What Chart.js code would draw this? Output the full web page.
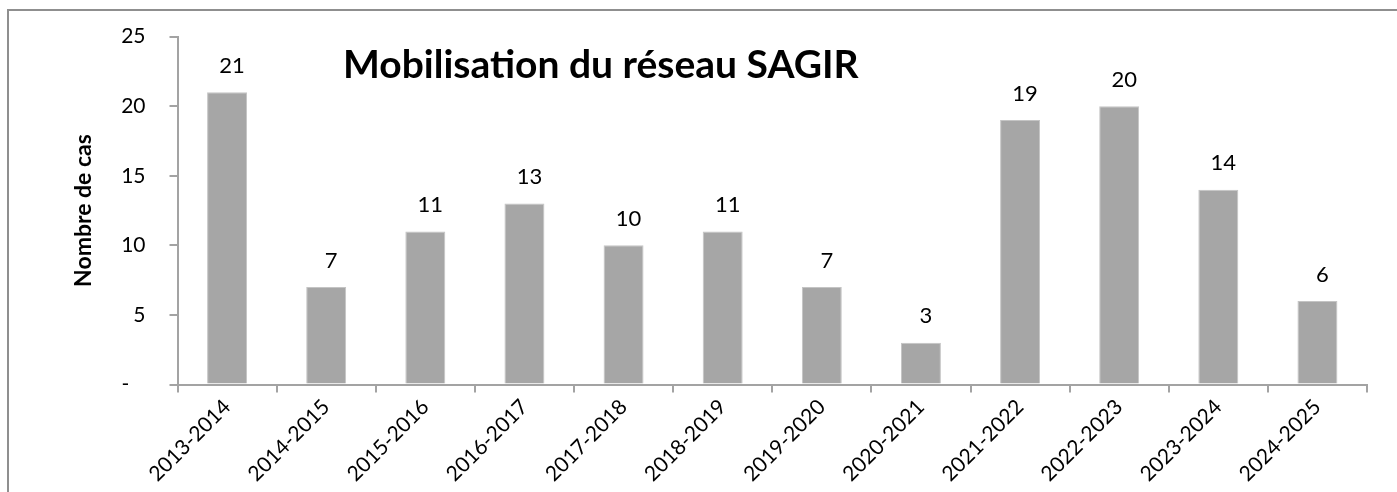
<!DOCTYPE html>
<html>
<head>
<meta charset="utf-8">
<script src="https://cdn.jsdelivr.net/npm/chart.js@4"></script>
<style>
  html, body { margin: 0; padding: 0; background: #fff; }
  #wrap { position: relative; width: 1397px; height: 492px; overflow: hidden; }
  #frame { position: absolute; left: 7px; top: 9px; width: 1500px; height: 600px;
           border-top: 2px solid #8f8f8f; border-left: 2px solid #8f8f8f; pointer-events: none; }
</style>
</head>
<body>
<div id="wrap">
  <canvas id="grafik" width="1397" height="492"></canvas>
  <div id="frame"></div>
</div>
<script>
const saisons = ["2013-2014", "2014-2015", "2015-2016", "2016-2017", "2017-2018", "2018-2019",
                 "2019-2020", "2020-2021", "2021-2022", "2022-2023", "2023-2024", "2024-2025"];
const nombreCas = [21, 7, 11, 13, 10, 11, 7, 3, 19, 20, 14, 6];
const titre = "Mobilisation du réseau SAGIR";
const titreAxeY = "Nombre de cas";

const police = "Lato, 'Open Sans', sans-serif";
const gris = "#a6a6a6";
const axe = "#a3a3a3";

// etiquettes au-dessus des barres + titre dans la zone du graphique
const etiquettes = {
  id: "etiquettes",
  afterDatasetsDraw(chart) {
    const ctx = chart.ctx;
    ctx.save();
    ctx.fillStyle = "#000";
    ctx.font = "22px " + police;
    ctx.textAlign = "center";
    ctx.textBaseline = "alphabetic";
    chart.getDatasetMeta(0).data.forEach((bar, i) => {
      ctx.fillText(String(nombreCas[i]), bar.x + 5, bar.y - 19.5);
    });
    ctx.font = "bold 39px " + police;
    ctx.textAlign = "left";
    ctx.fillText(titre, 343, 78);
    ctx.restore();
  }
};

const ctx = document.getElementById("grafik").getContext("2d");
new Chart(ctx, {
  type: "bar",
  data: {
    labels: saisons,
    datasets: [{
      label: titreAxeY,
      data: nombreCas,
      backgroundColor: gris,
      borderColor: "#c4c4c4",
      borderWidth: 1,
      barPercentage: 0.403,
      categoryPercentage: 1
    }]
  },
  options: {
    responsive: false,
    animation: false,
    layout: { padding: { left: 70, top: 29, right: 30, bottom: 7.5 } },
    plugins: { legend: { display: false }, tooltip: { enabled: false } },
    scales: {
      x: {
        afterFit: s => { s.height = 100; },
        grid: { display: true, drawOnChartArea: false, drawTicks: true, tickLength: 8, color: axe, lineWidth: 2 },
        border: { display: true, color: axe, width: 2 },
        ticks: { color: "#000", font: { family: police, size: 21 }, minRotation: 45, maxRotation: 45, padding: 2, autoSkip: false }
      },
      y: {
        min: 0, max: 25,
        afterFit: s => { s.width = 107.5; },
        grid: { display: true, drawOnChartArea: false, drawTicks: true, tickLength: 8, color: axe, lineWidth: 2 },
        border: { display: true, color: axe, width: 2 },
        ticks: {
          stepSize: 5, color: "#000", padding: 24,
          font: { family: police, size: 21 },
          callback: v => v === 0 ? "-   " : String(v)
        },
        title: { display: true, text: titreAxeY, color: "#000", padding: { top: 0, bottom: 0 },
                 font: { family: police, size: 23, weight: "bold" } }
      }
    }
  },
  plugins: [etiquettes]
});
</script>
</body>
</html>
